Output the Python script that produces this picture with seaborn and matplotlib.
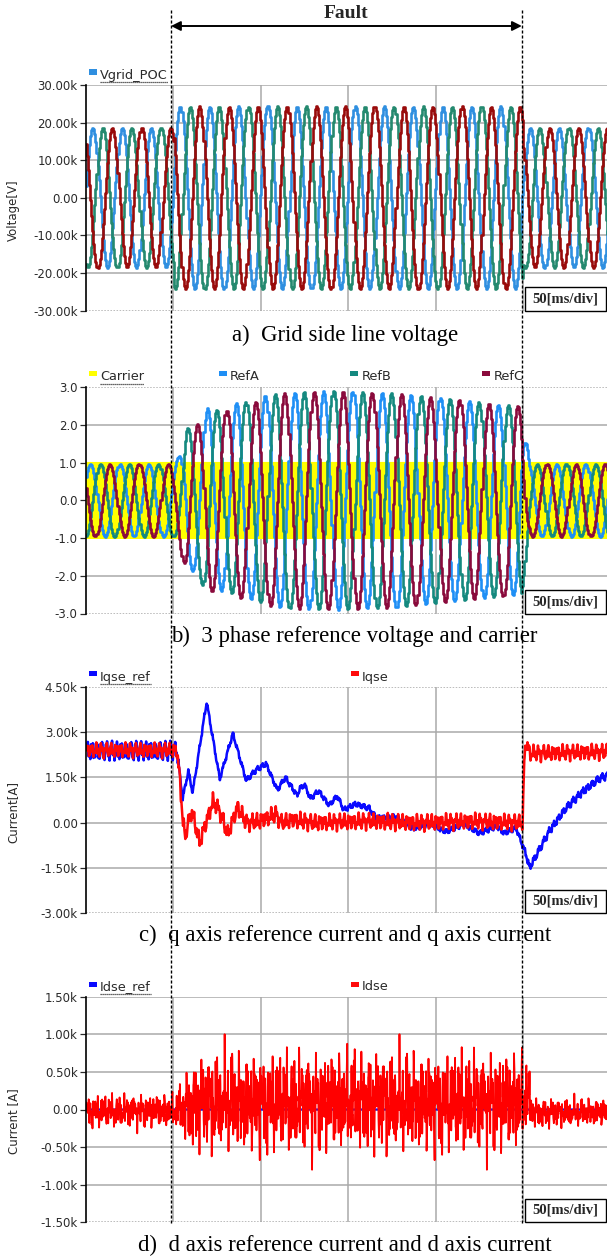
import numpy as np
import pandas as pd
import matplotlib
matplotlib.use("Agg")
import matplotlib.pyplot as plt
import matplotlib.transforms as mtransforms
from matplotlib.lines import Line2D
from matplotlib.patches import Rectangle, FancyArrowPatch
import seaborn as sns

# ------------------------------------------------------------------ data
VIEW_MS = 298.0                      # visible span of the time axis
DIV_MS = [50, 100, 150, 200, 250]    # vertical divisions
LINE_HZ = 60.0
FAULT_MARK_MS = [48.6, 249.3]
FAULT_TEXT = "Fault"
DIV_TEXT = "50[ms/div]"

captions = [
    "a)  Grid side line voltage",
    "b)  3 phase reference voltage and carrier",
    "c)  q axis reference current and q axis current",
    "d)  d axis reference current and d axis current",
]

# (a) grid side line voltage, three phases
vgrid_phases = ["Vgrid_a", "Vgrid_b", "Vgrid_c"]
vgrid_crest_ms = [3.7, 9.25, 14.8]
vgrid_seg_ms = [50, 250]                 # amplitude steps at these instants
vgrid_amp_v = [18600, 24300, 18600]      # before / during / after the fault
vgrid_hold_ms = 0.6
vgrid_ticks = [-30000, -20000, -10000, 0, 10000, 20000, 30000]
vgrid_ticklabels = ["-30.00k", "-20.00k", "-10.00k", "0.00", "10.00k", "20.00k", "30.00k"]

# (b) three phase references and PWM carrier
ref_names = ["RefA", "RefB", "RefC"]
ref_crest_ms = [2.3, 7.86, 13.4]
ref_env_ms = [0, 50, 53, 57, 61, 64, 69, 75, 81, 86, 97, 102, 113, 125, 144,
              162, 180, 196, 211, 230, 249, 253, 300]
ref_env_pu = [0.96, 0.96, 1.2, 1.95, 1.85, 2.05, 2.45, 2.4, 2.38, 2.6, 2.62, 2.78,
              2.85, 2.88, 2.9, 2.87, 2.83, 2.74, 2.68, 2.57, 2.5, 0.96, 0.96]
ref_hold_ms = 0.6
carrier_hz = 3000.0
carrier_peak = 1.0
ref_ticks = [-3, -2, -1, 0, 1, 2, 3]
ref_ticklabels = ["-3.0", "-2.0", "-1.0", "0.0", "1.0", "2.0", "3.0"]

# (c) q axis current reference and measured q axis current
iq_ref_ms = [0, 52, 55.3, 58.5, 61, 69, 76.5, 84, 91.6, 97.4, 103, 109.4, 114,
             120.7, 122.5, 125, 128.4, 133, 139, 143.7, 147.5, 154, 162, 166, 177,
             187, 196.6, 206, 216, 225, 235, 239, 246, 250.3, 252, 253.6, 265,
             274.5, 284, 293.5, 300]
iq_ref_a = [2380, 2380, 800, 1700, 1000, 4000, 1450, 2950, 1400, 1750, 1950, 1080,
            1500, 900, 1150, 1250, 800, 1050, 580, 880, 420, 620, 480, 150, 200,
            -200, -50, -300, -50, -350, -120, -350, -180, -850, -1100, -1500, -280,
            480, 1020, 1460, 1600]
iq_ref_rip_ms = [0, 51, 54, 249, 252, 300]
iq_ref_rip_a = [380, 380, 110, 110, 160, 160]
iq_ref_tone_hz = [360, 1080, 1740]
iq_ref_tone_w = [0.5, 0.3, 0.2]

iq_ms = [0, 51.9, 53.6, 55.5, 56.6, 60.4, 65, 72.6, 76.4, 81, 86.8, 91.6, 99,
         108.6, 112, 118, 130, 160, 190, 220, 249.8, 250.6, 251.6, 254, 258, 300]
iq_a = [2400, 2400, 1500, 0, -450, 420, -650, 700, 400, -380, 520, 0, 50, 280, 0,
        100, 0, 50, 0, 50, 0, 2000, 2650, 2300, 2300, 2350]
iq_rip_ms = [0, 51, 54, 300]
iq_rip_a = [280, 280, 330, 300]
iq_tone_hz = [360, 840, 1500]
iq_tone_w = [0.45, 0.35, 0.2]
iq_ticks = [-3000, -1500, 0, 1500, 3000, 4500]
iq_ticklabels = ["-3.00k", "-1.50k", "0.00", "1.50k", "3.00k", "4.50k"]

# (d) d axis current reference and measured d axis current
id_ref_a = 0.0
id_mid_ms = [0, 50, 55, 70, 248, 252, 256, 300]
id_mid_a = [-20, -20, 0, 100, 100, 200, -50, -30]
id_env_ms = [0, 50, 53, 60, 72, 246, 252, 256, 300]
id_env_a = [330, 330, 450, 850, 1000, 1000, 800, 300, 260]
id_tone_hz = [230, 470, 730, 1130, 1570, 2110]
id_tone_w = [1.0, 1.0, 1.0, 1.0, 1.0, 1.0]
id_tone_deg = [0, 40, 110, 200, 290, 330]
id_ticks = [-1500, -1000, -500, 0, 500, 1000, 1500]
id_ticklabels = ["-1.50k", "-1.00k", "-0.50k", "0.00", "0.50k", "1.00k", "1.50k"]

# ------------------------------------------------------------------ style
W_PX, H_PX = 607, 1256
AX_LEFT_PX = 86
PANEL_PX = [(85, 310.5), (387.3, 613.5), (686.7, 913.3), (996.7, 1222.3)]
GRID_COLOR = "#a9a9a9"
TEXT_COLOR = "#2a2a2a"
TICK_FONT = 8.5
LEGEND_FONT = 9.3
SERIF = "Liberation Serif"
CAPTION_FONT = 16.4

vgrid_colors = ["#2f8fe0", "#24896f", "#990b0b"]
ref_colors = ["#1f8ff5", "#15897f", "#8a0a3c"]
carrier_color = "#ffff00"
blue_i = "#0a0aff"
red_i = "#ff0a0a"

sns.set_theme(style="white")
plt.rcParams["font.family"] = ["DejaVu Sans"]


def tone_sum(t_ms, freqs, weights, phases_deg=None):
    if phases_deg is None:
        phases_deg = [0.0] * len(freqs)
    out = np.zeros_like(t_ms, dtype=float)
    for f, w, p in zip(freqs, weights, phases_deg):
        out += w * np.sin(2 * np.pi * f * t_ms / 1000.0 + np.deg2rad(p))
    return out / float(sum(weights))


fig = plt.figure(figsize=(W_PX / 100, H_PX / 100), dpi=100)


def make_axes(top, bottom):
    return fig.add_axes([AX_LEFT_PX / W_PX, 1 - bottom / H_PX,
                         (W_PX - AX_LEFT_PX) / W_PX, (bottom - top) / H_PX])


def style_axes(ax, ticks, labels, top_dotted):
    ax.set_xlim(0, VIEW_MS)
    ax.set_ylim(ticks[0], ticks[-1])
    ax.set_xticks(DIV_MS)
    ax.set_xticklabels([])
    ax.tick_params(axis="x", length=0)
    ax.set_yticks(ticks)
    ax.set_yticklabels(labels)
    ax.tick_params(axis="y", direction="out", length=4, width=0.9, pad=2,
                   labelsize=TICK_FONT, colors=TEXT_COLOR, left=True)
    ax.set_xlabel("")
    ax.grid(True, color=GRID_COLOR, lw=1.1)
    ax.set_axisbelow(True)
    gl = ax.get_ygridlines()
    gl[0].set_linestyle((0, (1, 1)))
    if top_dotted:
        gl[-1].set_linestyle((0, (1, 1)))
    for side in ("top", "right", "bottom"):
        ax.spines[side].set_visible(False)
    ax.spines["left"].set_color("black")
    ax.spines["left"].set_linewidth(1.2)
    ax.add_patch(Rectangle((0.8426, 0.0), 0.1564, 0.105, transform=ax.transAxes,
                           facecolor="white", edgecolor="black", lw=1.0,
                           zorder=6, clip_on=False))
    ax.text(0.8426 + 0.1564 / 2, 0.0525, DIV_TEXT, transform=ax.transAxes,
            ha="center", va="center", family=SERIF, fontweight="bold",
            fontsize=10.5, zorder=7)


axes = [make_axes(t, b) for t, b in PANEL_PX]
ax_a, ax_b, ax_c, ax_d = axes

# ---- (a) grid voltage
t_a = np.arange(0, 300 + vgrid_hold_ms, vgrid_hold_ms)
amp_a = np.asarray(vgrid_amp_v)[np.searchsorted(vgrid_seg_ms, t_a, side="right")]
df_a = pd.concat([
    pd.DataFrame({"t": t_a, "v": amp_a * np.cos(2 * np.pi * LINE_HZ * (t_a - c) / 1000.0),
                  "phase": n})
    for n, c in zip(vgrid_phases, vgrid_crest_ms)], ignore_index=True)
sns.lineplot(data=df_a, x="t", y="v", hue="phase", hue_order=vgrid_phases,
             palette=vgrid_colors, estimator=None, sort=False, legend=False,
             drawstyle="steps-post", lw=1.9, ax=ax_a)
style_axes(ax_a, vgrid_ticks, vgrid_ticklabels, top_dotted=False)
ax_a.set_ylabel("Voltage[V]", fontsize=8.5, color=TEXT_COLOR, va="center")
ax_a.yaxis.set_label_coords(-0.140, 0.446)

# ---- (b) references and carrier
t_c = np.arange(0, 300, 1000.0 / carrier_hz / 2)
car = carrier_peak * np.where(np.arange(t_c.size) % 2 == 0, -1.0, 1.0)
sns.lineplot(x=t_c, y=car, color=carrier_color, estimator=None, sort=False,
             lw=1.2, ax=ax_b)
t_b = np.arange(0, 300 + ref_hold_ms, ref_hold_ms)
env_b = np.interp(t_b, ref_env_ms, ref_env_pu)
df_b = pd.concat([
    pd.DataFrame({"t": t_b, "v": env_b * np.cos(2 * np.pi * LINE_HZ * (t_b - c) / 1000.0),
                  "ref": n})
    for n, c in zip(ref_names, ref_crest_ms)], ignore_index=True)
sns.lineplot(data=df_b, x="t", y="v", hue="ref", hue_order=ref_names,
             palette=ref_colors, estimator=None, sort=False, legend=False,
             drawstyle="steps-post", lw=1.9, ax=ax_b)
style_axes(ax_b, ref_ticks, ref_ticklabels, top_dotted=True)
ax_b.set_ylabel("")

# ---- (c) q axis currents
t_i = np.arange(0, 300, 0.1)
iq_ref = (np.interp(t_i, iq_ref_ms, iq_ref_a)
          + np.interp(t_i, iq_ref_rip_ms, iq_ref_rip_a)
          * tone_sum(t_i, iq_ref_tone_hz, iq_ref_tone_w, [0, 50, 120]))
iq = (np.interp(t_i, iq_ms, iq_a)
      + np.interp(t_i, iq_rip_ms, iq_rip_a)
      * tone_sum(t_i, iq_tone_hz, iq_tone_w, [30, 75, 160]))
df_c = pd.DataFrame({"t": np.concatenate([t_i, t_i]),
                     "v": np.concatenate([iq_ref, iq]),
                     "sig": ["Iqse_ref"] * t_i.size + ["Iqse"] * t_i.size})
sns.lineplot(data=df_c, x="t", y="v", hue="sig", hue_order=["Iqse_ref", "Iqse"],
             palette=[blue_i, red_i], estimator=None, sort=False, legend=False,
             lw=1.8, ax=ax_c)
style_axes(ax_c, iq_ticks, iq_ticklabels, top_dotted=True)
ax_c.set_ylabel("Current[A]", fontsize=8.5, color=TEXT_COLOR, va="center")
ax_c.yaxis.set_label_coords(-0.140, 0.448)

# ---- (d) d axis currents
idse = (np.interp(t_i, id_mid_ms, id_mid_a)
        + np.interp(t_i, id_env_ms, id_env_a)
        * tone_sum(t_i, id_tone_hz, id_tone_w, id_tone_deg))
sns.lineplot(x=t_i, y=np.full_like(t_i, id_ref_a), color=blue_i, estimator=None,
             sort=False, lw=1.6, ax=ax_d)
sns.lineplot(x=t_i, y=idse, color="#ff0000", estimator=None, sort=False,
             lw=1.3, ax=ax_d)
style_axes(ax_d, id_ticks, id_ticklabels, top_dotted=False)
ax_d.set_ylabel("Current [A]", fontsize=8.5, color=TEXT_COLOR, va="center")
ax_d.yaxis.set_label_coords(-0.140, 0.45)

# ---- legends above each panel
legend_rows = [
    [(92.5, 75, "Vgrid_POC", vgrid_colors[0], True)],
    [(92.5, 376.5, "Carrier", carrier_color, True), (222.5, 376.5, "RefA", ref_colors[0], False),
     (354, 376.5, "RefB", ref_colors[1], False), (486, 376.5, "RefC", ref_colors[2], False)],
    [(92.5, 677, "Iqse_ref", blue_i, True), (354.5, 677, "Iqse", red_i, False)],
    [(92.5, 987, "Idse_ref", blue_i, True), (354.5, 987, "Idse", red_i, False)],
]
underlined = []
for row in legend_rows:
    for x, y, label, color, under in row:
        fig.add_artist(Rectangle(((x - 4) / W_PX, 1 - (y - 0.5) / H_PX), 8 / W_PX, 5 / H_PX,
                                 transform=fig.transFigure, facecolor=color,
                                 edgecolor="none"))
        txt = fig.text((x + 7.5) / W_PX, 1 - y / H_PX, label, fontsize=LEGEND_FONT,
                       ha="left", va="center", color=TEXT_COLOR)
        if under:
            underlined.append((txt, y))

# ---- captions
caption_pos = [(345, 341.5), (354.5, 642.3), (345, 940.7), (345, 1251.5)]
for (x, y), cap in zip(caption_pos, captions):
    fig.text(x / W_PX, 1 - y / H_PX, cap, ha="center", va="baseline",
             family=SERIF, fontsize=CAPTION_FONT, color="black")

# ---- fault window markers spanning all panels
mark_tf = mtransforms.blended_transform_factory(ax_a.transData, fig.transFigure)
for tm in FAULT_MARK_MS:
    fig.add_artist(Line2D([tm, tm], [1 - 10 / H_PX, 1 - 1223 / H_PX], transform=mark_tf,
                          color="black", lw=1.0, linestyle=(0, (2.2, 1.4)), zorder=20))
fig.add_artist(FancyArrowPatch(
    (FAULT_MARK_MS[0], 1 - 26 / H_PX), (FAULT_MARK_MS[1], 1 - 26 / H_PX),
    transform=mark_tf, arrowstyle="<|-|>", mutation_scale=14, lw=1.4,
    color="black", shrinkA=0, shrinkB=0, zorder=20))
fig.text(sum(FAULT_MARK_MS) / 2, 1 - 13 / H_PX, FAULT_TEXT, transform=mark_tf,
         ha="center", va="center", family=SERIF, fontweight="bold", fontsize=14)

# ---- dotted underline under the first legend entry of each panel
fig.canvas.draw()
for txt, y in underlined:
    bb = txt.get_window_extent()
    fig.add_artist(Line2D([bb.x0, bb.x1], [H_PX - (y + 7)] * 2,
                          transform=mtransforms.IdentityTransform(),
                          color="#333333", lw=0.9, linestyle=(0, (1, 0.6))))

fig.savefig("out.png", dpi=100)
